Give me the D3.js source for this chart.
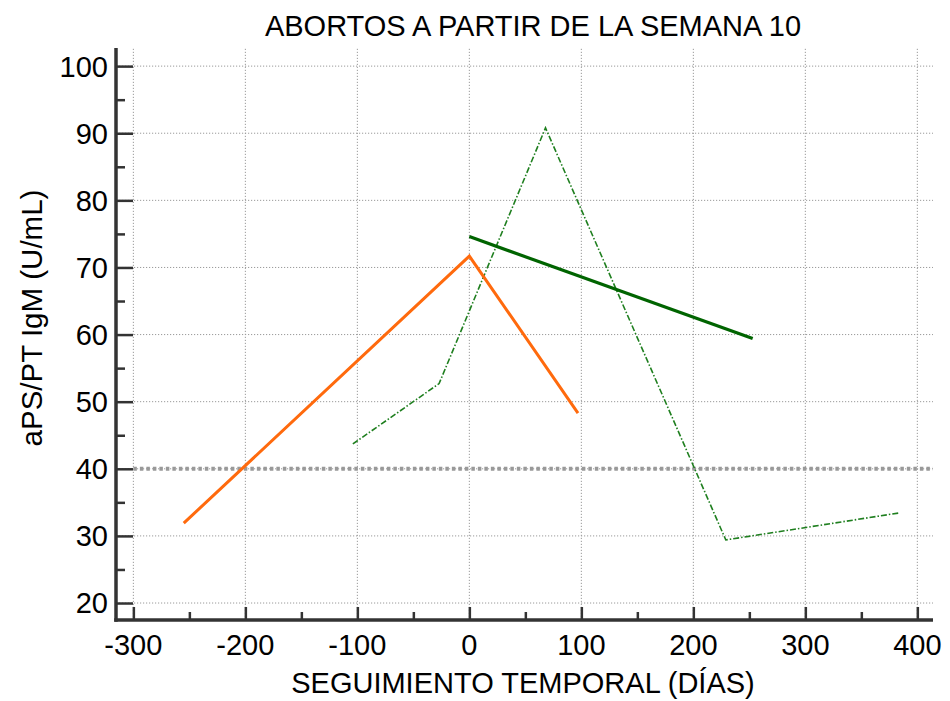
<!DOCTYPE html>
<html>
<head>
<meta charset="utf-8">
<script src="https://cdn.jsdelivr.net/npm/d3@7"></script>
<style>
  html, body { margin: 0; padding: 0; background: #fff; }
  svg { display: block; font-family: "Liberation Sans", Arial, sans-serif; }
</style>
</head>
<body>
<svg id="chart" width="950" height="701"></svg>
<script>
// Follow-up of aPS/PT IgM in pregnancy losses from week 10
const title = "ABORTOS A PARTIR DE LA SEMANA 10";
const xLabel = "SEGUIMIENTO TEMPORAL (DÍAS)";
const yLabel = "aPS/PT IgM (U/mL)";

const xTicks = [-300, -200, -100, 0, 100, 200, 300, 400];
const xMinorTicks = [-250, -150, -50, 50, 150, 250, 350];
const yTicks = [20, 30, 40, 50, 60, 70, 80, 90, 100];
const yMinorTicks = [25, 35, 45, 55, 65, 75, 85, 95];

// Patient series (days relative to event, U/mL)
const orangeDays = [-255, 0, 97];
const orangeValues = [31.9, 71.7, 48.3];

const solidGreenDays = [0, 253];
const solidGreenValues = [74.6, 59.4];

const dashGreenDays = [-104, -27, 68, 229, 383];
const dashGreenValues = [43.7, 52.7, 90.8, 29.4, 33.4];

const cutoff = 40;

const svg = d3.select("#chart");

const x = d3.scaleLinear().domain([-315.5, 414]).range([116, 933]);
const y = d3.scaleLinear().domain([17.47, 102.7]).range([620, 48]);

const [x0, x1] = x.range();
const [yb, yt] = y.range();

// grid
const grid = svg.append("g").attr("stroke", "#9a9a9a").attr("stroke-width", 1)
  .attr("stroke-dasharray", "1.2,1.8");
grid.selectAll("line.v").data(xTicks).join("line")
  .attr("x1", d => x(d)).attr("x2", d => x(d))
  .attr("y1", yb).attr("y2", yt);
grid.selectAll("line.h").data(yTicks).join("line")
  .attr("x1", x0).attr("x2", x1)
  .attr("y1", d => y(d)).attr("y2", d => y(d));

// cutoff line
svg.append("line")
  .attr("x1", x(-300)).attr("x2", x1)
  .attr("y1", y(cutoff)).attr("y2", y(cutoff))
  .attr("stroke", "#999").attr("stroke-width", 4)
  .attr("stroke-dasharray", "3.5,3");

// series
const line = d3.line().x(d => x(d[0])).y(d => y(d[1]));

svg.append("path")
  .datum(d3.zip(dashGreenDays, dashGreenValues))
  .attr("d", line).attr("fill", "none")
  .attr("stroke", "#1f7f1f").attr("stroke-width", 1.6)
  .attr("stroke-dasharray", "6,2,1.5,2");

svg.append("path")
  .datum(d3.zip(orangeDays, orangeValues))
  .attr("d", line).attr("fill", "none")
  .attr("stroke", "#ff6a0d").attr("stroke-width", 3);

svg.append("path")
  .datum(d3.zip(solidGreenDays, solidGreenValues))
  .attr("d", line).attr("fill", "none")
  .attr("stroke", "#006400").attr("stroke-width", 3.2);

// axes
const axisColor = "#333";
const yAxis = svg.append("g").attr("transform", `translate(${x0},0)`)
  .call(d3.axisRight(y).tickValues(yTicks).tickSize(17).tickFormat(""));
yAxis.select(".domain").remove();
yAxis.selectAll(".tick line").attr("stroke", axisColor).attr("stroke-width", 2.5);
svg.append("g").attr("transform", `translate(${x0},0)`)
  .call(d3.axisRight(y).tickValues(yMinorTicks).tickSize(9).tickFormat(""))
  .call(g => g.select(".domain").remove())
  .selectAll(".tick line").attr("stroke", axisColor).attr("stroke-width", 2.5);

const xAxis = svg.append("g").attr("transform", `translate(0,${yb})`)
  .call(d3.axisTop(x).tickValues(xTicks).tickSize(13).tickFormat(""));
xAxis.select(".domain").remove();
xAxis.selectAll(".tick line").attr("stroke", axisColor).attr("stroke-width", 2.5);
svg.append("g").attr("transform", `translate(0,${yb})`)
  .call(d3.axisTop(x).tickValues(xMinorTicks).tickSize(8).tickFormat(""))
  .call(g => g.select(".domain").remove())
  .selectAll(".tick line").attr("stroke", axisColor).attr("stroke-width", 2.5);

svg.append("line").attr("x1", x0).attr("x2", x0).attr("y1", yt).attr("y2", yb + 1.75)
  .attr("stroke", axisColor).attr("stroke-width", 3.5);
svg.append("line").attr("x1", x0 - 1.75).attr("x2", x1).attr("y1", yb).attr("y2", yb)
  .attr("stroke", axisColor).attr("stroke-width", 3.5);

// tick labels
svg.append("g").selectAll("text").data(yTicks).join("text")
  .attr("x", 108).attr("y", d => y(d)).attr("dy", "0.36em")
  .attr("text-anchor", "end").attr("font-size", 29).attr("fill", "#000")
  .text(d => d);
svg.append("g").selectAll("text").data(xTicks).join("text")
  .attr("x", d => x(d)).attr("y", 655)
  .attr("text-anchor", "middle").attr("font-size", 29).attr("fill", "#000")
  .text(d => d);

// titles
svg.append("text").attr("x", 533).attr("y", 36).attr("text-anchor", "middle")
  .attr("font-size", 29).attr("fill", "#000").text(title);
svg.append("text").attr("x", 523).attr("y", 693).attr("text-anchor", "middle")
  .attr("font-size", 29).attr("fill", "#000").text(xLabel);
svg.append("text").attr("transform", "translate(42,318) rotate(-90)")
  .attr("text-anchor", "middle").attr("font-size", 29.5).attr("fill", "#000").text(yLabel);
</script>
</body>
</html>
